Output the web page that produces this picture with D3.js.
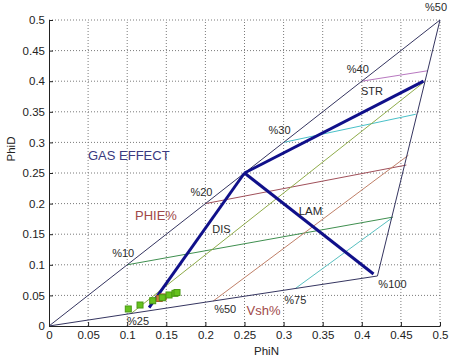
<!DOCTYPE html>
<html><head><meta charset="utf-8">
<script src="https://cdn.jsdelivr.net/npm/d3@7/dist/d3.min.js"></script>
<style>
body{margin:0;background:#fff;}
svg{display:block;font-family:"Liberation Sans",Arial,Helvetica,sans-serif;}
</style></head>
<body><svg id="c" width="454" height="360"></svg>
<script>
// ---- data ----
const xTicks = [0,0.05,0.1,0.15,0.2,0.25,0.3,0.35,0.4,0.45,0.5];
const yTicks = [0,0.05,0.1,0.15,0.2,0.25,0.3,0.35,0.4,0.45,0.5];
const tickLabels = ["0","0.05","0.1","0.15","0.2","0.25","0.3","0.35","0.4","0.45","0.5"];
const cleanPoint = [0.5, 0.5];
const shalePoint = [0.42, 0.0817];
const sandPoint = [0.25, 0.25];
const strEnd = [0.479, 0.400];
const lamEnd = [0.415, 0.085];
const disEnd = [0.128, 0.030];
const phieLevels = [0.1, 0.2, 0.3, 0.4];
const phieLabels = ["%10","%20","%30","%40"];
const phieEndN = [0.440, 0.457, 0.469, 0.484];
const phieEndD = [0.178, 0.263, 0.346, 0.417];
const vshLabels = ["%25","%50","%75"];
const vshStartN = [0.105, 0.210, 0.315];
const vshStartD = [0.0204, 0.0408, 0.0613];
const vshEndN = [0.478, 0.4595, 0.438];
const vshEndD = [0.397, 0.279, 0.176];
const sampleN = [0.1014, 0.1164, 0.1326, 0.1449, 0.1535, 0.1611, 0.1637];
const sampleD = [0.0278, 0.0343, 0.0413, 0.0462, 0.0507, 0.0534, 0.0547];
const sample2N = [0.141, 0.146];
const sample2D = [0.0450, 0.0475];

// ---- chart ----
const svg = d3.select("#c");
const x = d3.scaleLinear().domain([0,0.5]).range([49,440]);
const y = d3.scaleLinear().domain([0,0.5]).range([326,20]);

// grid
const grid = svg.append("g");
grid.selectAll(".gx").data(xTicks.slice(1)).enter().append("line")
  .attr("x1", d=>x(d)).attr("x2", d=>x(d)).attr("y1", y(0)).attr("y2", y(0.5))
  .attr("stroke","#7a7a7a").attr("stroke-width",1).attr("stroke-dasharray","1,2");
grid.selectAll(".gy").data(yTicks.slice(1)).enter().append("line")
  .attr("y1", d=>y(d)).attr("y2", d=>y(d)).attr("x1", x(0)).attr("x2", x(0.5))
  .attr("stroke","#7a7a7a").attr("stroke-width",1).attr("stroke-dasharray","1,2");

const line = (a,b,color,w) => svg.append("line")
  .attr("x1",x(a[0])).attr("y1",y(a[1])).attr("x2",x(b[0])).attr("y2",y(b[1]))
  .attr("stroke",color).attr("stroke-width",w);

// iso-PHIE lines
const phieColors = ["#3f8f4f","#a0505a","#48c0c8","#b878c0"];
phieLevels.forEach((p,i)=> line([p,p],[phieEndN[i],phieEndD[i]],phieColors[i],1));
// iso-Vsh lines
const vshColors = ["#8fac4a","#c08068","#58c0c0"];
vshStartN.forEach((s,i)=> line([s,vshStartD[i]],[vshEndN[i],vshEndD[i]],vshColors[i],1));

// triangle
const triC = "#353560";
line([0,0],cleanPoint,triC,1);
line([0,0],shalePoint,triC,1);
line(cleanPoint,shalePoint,triC,1);

// model lines
const navy = "#10108a";
line(sandPoint,strEnd,navy,3);
line(sandPoint,lamEnd,navy,3);
line(sandPoint,disEnd,navy,3);

// samples
svg.selectAll(".s2").data(sample2N).enter().append("rect")
  .attr("x",(d,i)=>x(d)-3).attr("y",(d,i)=>y(sample2D[i])-3)
  .attr("width",6).attr("height",6).attr("fill","#c8783c").attr("stroke","#a05a28");
svg.selectAll(".s").data(sampleN).enter().append("rect")
  .attr("x",(d,i)=>x(d)-3).attr("y",(d,i)=>y(sampleD[i])-3)
  .attr("width",6).attr("height",6).attr("fill","#66c21e").attr("stroke","#4a9a14").attr("stroke-width",1);

// axes
const xa = svg.append("g").attr("transform",`translate(0,${y(0)})`)
  .call(d3.axisBottom(x).tickValues(xTicks).tickFormat((d,i)=>tickLabels[i])
    .tickSizeInner(-4).tickSizeOuter(0).tickPadding(5));
const ya = svg.append("g").attr("transform",`translate(${x(0)},0)`)
  .call(d3.axisLeft(y).tickValues(yTicks).tickFormat((d,i)=>tickLabels[i])
    .tickSizeInner(-4).tickSizeOuter(0).tickPadding(4));
[xa,ya].forEach(a=>{
  a.selectAll("text").attr("font-size","11.5px").attr("fill","#222").attr("font-family","Liberation Sans, Arial, sans-serif");
  a.selectAll("path,line").attr("stroke","#222");
  a.attr("font-size",null);
});

// axis titles
svg.append("text").attr("x",266.5).attr("y",355).attr("text-anchor","middle")
  .attr("font-size","11.5px").attr("fill","#222").text("PhiN");
svg.append("text").attr("transform","translate(15,149) rotate(-90)").attr("text-anchor","middle")
  .attr("font-size","11.5px").attr("fill","#222").text("PhiD");

// labels
const lab = (px,py,t,size,color,anchor) => svg.append("text").attr("x",px).attr("y",py)
  .attr("text-anchor",anchor||"middle").attr("font-size",size+"px").attr("fill",color).text(t);
const dark = "#2a2a2a";
phieLevels.forEach((p,i)=> lab(x(p)-4, y(p)-8, phieLabels[i], 11, dark));
lab(x(cleanPoint[0])-4, y(cleanPoint[1])-9, "%50", 11, dark);
lab(x(vshStartN[0])+7, y(vshStartD[0])+11.5, vshLabels[0], 11, dark);
lab(x(vshStartN[1])+12, y(vshStartD[1])+12, vshLabels[1], 11, dark);
lab(x(vshStartN[2]), y(vshStartD[2])+15.5, vshLabels[2], 11, dark);
lab(x(shalePoint[0])+15, y(shalePoint[1])+12, "%100", 11, dark);
lab(372, 95, "STR", 11, dark);
lab(221.5, 233, "DIS", 11, dark);
lab(310.5, 215, "LAM", 11.5, dark);
lab(88, 160, "GAS EFFECT", 13, "#3a3a80", "start");
lab(135, 220, "PHIE%", 13, "#a04848", "start");
lab(246.5, 315, "Vsh%", 13, "#a04848", "start");
</script></body></html>
